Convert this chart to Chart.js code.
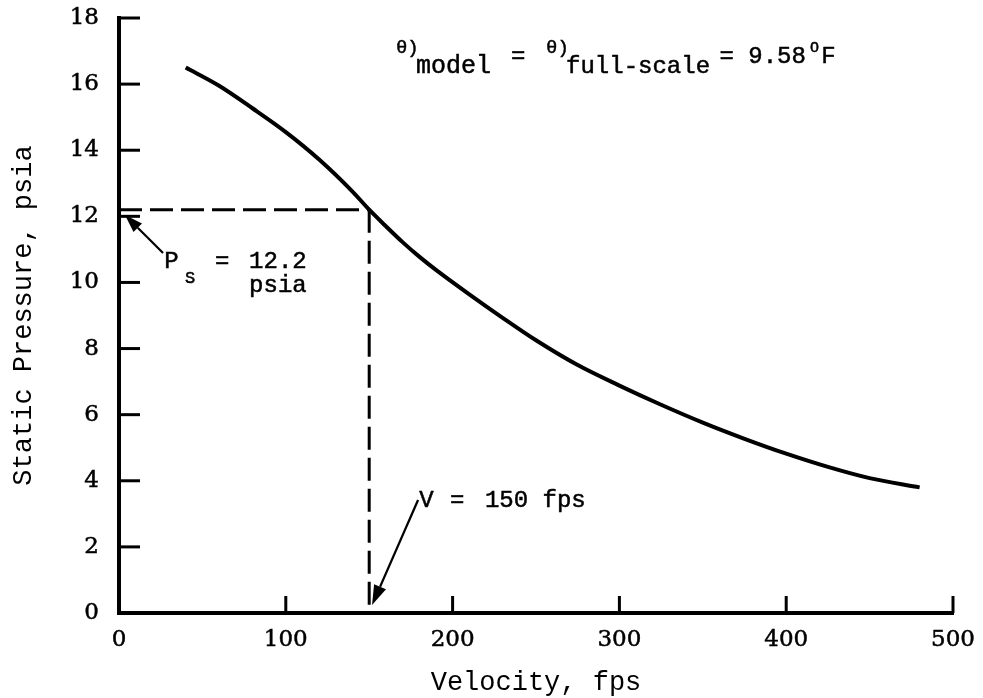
<!DOCTYPE html>
<html><head><meta charset="utf-8">
<script src="https://cdn.jsdelivr.net/npm/chart.js@4/dist/chart.umd.min.js"></script>
<style>html,body{margin:0;padding:0;background:#fff;overflow:hidden}#wrap{width:983px;height:698px}</style>
</head><body><div id="wrap"><canvas id="c" width="983" height="698"></canvas></div>
<script>
// ---- data ----
const velocity = [40, 60, 80, 100, 120, 140, 150, 160, 170, 180, 190, 210, 230, 250, 275, 300, 325, 350, 375, 400, 425, 450, 480];
const pressure = [16.5, 15.95, 15.27, 14.55, 13.72, 12.75, 12.2, 11.7, 11.22, 10.78, 10.38, 9.64, 8.93, 8.25, 7.5, 6.88, 6.3, 5.76, 5.27, 4.82, 4.42, 4.08, 3.8];
const designVelocity = 150;   // fps
const designPressure = 12.2;  // psia
const xTickValues = [0, 100, 200, 300, 400, 500];
const yTickValues = [0, 2, 4, 6, 8, 10, 12, 14, 16, 18];
const xTitle = 'Velocity, fps';
const yTitle = 'Static Pressure, psia';

const MONO = '"Liberation Mono", "DejaVu Sans Mono", monospace';
const SERIF = '"DejaVu Serif", "Liberation Serif", serif';

const curve = velocity.map((v, i) => ({x: v, y: pressure[i]}));
const hLine = [{x: 0, y: designPressure}, {x: designVelocity, y: designPressure}];
const vLine = [{x: designVelocity, y: designPressure}, {x: designVelocity, y: 0}];

function arrow(ctx, x1, y1, x2, y2, headLen, headHalf) {
  const ang = Math.atan2(y2 - y1, x2 - x1);
  const bx = x2 - headLen * Math.cos(ang), by = y2 - headLen * Math.sin(ang);
  ctx.beginPath();
  ctx.moveTo(x1, y1); ctx.lineTo(bx, by);
  ctx.lineWidth = 2.2; ctx.strokeStyle = '#000'; ctx.stroke();
  ctx.beginPath();
  ctx.moveTo(x2, y2);
  ctx.lineTo(bx + headHalf * Math.sin(ang), by - headHalf * Math.cos(ang));
  ctx.lineTo(bx - headHalf * Math.sin(ang), by + headHalf * Math.cos(ang));
  ctx.closePath(); ctx.fillStyle = '#000'; ctx.fill();
}

const annotate = {
  id: 'annotate',
  afterDraw(chart) {
    const ctx = chart.ctx, xs = chart.scales.x, ys = chart.scales.y;
    const X = v => xs.getPixelForValue(v), Y = p => ys.getPixelForValue(p);
    ctx.save();
    // inward tick marks
    ctx.strokeStyle = '#000'; ctx.lineWidth = 3; ctx.lineCap = 'butt';
    xTickValues.forEach(v => { if (v === 0) return;
      ctx.beginPath(); ctx.moveTo(X(v), Y(0)); ctx.lineTo(X(v), Y(0) - 17); ctx.stroke(); });
    yTickValues.forEach(p => { if (p === 0) return;
      ctx.beginPath(); ctx.moveTo(X(0), Y(p)); ctx.lineTo(X(0) + 21, Y(p)); ctx.stroke(); });
    // text pieces
    ctx.fillStyle = '#000'; ctx.strokeStyle = '#000'; ctx.lineWidth = 0.5;
    ctx.textBaseline = 'alphabetic'; ctx.textAlign = 'left';
    const txt = (t, v, p, size) => { ctx.font = size + 'px ' + MONO; ctx.fillText(t, X(v), Y(p)); ctx.strokeText(t, X(v), Y(p)); };
    txt('\u03b8)', 166.0, 16.94, 19);
    txt('model', 178.0, 16.33, 25);
    txt('=', 235.0, 16.64, 24);
    txt('\u03b8)', 256.0, 16.94, 19);
    txt('full-scale', 268.0, 16.33, 24);
    txt('= 9.58', 360.0, 16.64, 24);
    txt('O', 414.3, 16.97, 15);
    txt('F', 421.0, 16.64, 24);

    txt('P', 27.2, 10.44, 24);
    txt('S', 39.6, 9.98, 17);
    txt('=', 57.6, 10.44, 24);
    txt('12.2', 78.0, 10.44, 24);
    txt('psia', 78.0, 9.71, 24);

    txt('V', 180.0, 3.21, 24);
    txt('=', 198.4, 3.21, 24);
    txt('150 fps', 219.4, 3.21, 24);

    // arrows
    arrow(ctx, X(26.4), Y(10.89), X(3.6), Y(12.04), 18, 6);
    arrow(ctx, X(179.3), Y(3.42), X(151.7), Y(0.24), 20, 6.5);
    ctx.restore();
  }
};

new Chart(document.getElementById('c'), {
  type: 'line',
  data: { datasets: [
    { data: curve, borderColor: '#000', borderWidth: 4, pointRadius: 0, fill: false, cubicInterpolationMode: 'monotone' },
    { data: hLine, borderColor: '#000', borderWidth: 3, pointRadius: 0, fill: false, borderDash: [23, 8] },
    { data: vLine, borderColor: '#000', borderWidth: 3, pointRadius: 0, fill: false, borderDash: [23, 8] }
  ]},
  options: {
    responsive: false, animation: false, devicePixelRatio: 1,
    layout: { padding: { top: 18, right: 30, left: 0, bottom: 0 } },
    plugins: { legend: { display: false }, tooltip: { enabled: false } },
    scales: {
      x: {
        type: 'linear', min: 0, max: 500,
        afterBuildTicks: s => { s.ticks = xTickValues.map(v => ({value: v})); },
        afterFit: s => { s.height = 85; },
        grid: { display: false, drawTicks: true, tickLength: 13 },
        border: { display: true, width: 4, color: '#000' },
        ticks: { color: '#000', padding: 0, font: { family: SERIF, size: 23 }, maxRotation: 0, textStrokeColor: '#000', textStrokeWidth: 0.5 },
        title: { display: true, text: xTitle, color: '#000', font: { family: MONO, size: 27, lineHeight: 1.1 }, padding: { top: 0, bottom: 0 } }
      },
      y: {
        type: 'linear', min: 0, max: 18,
        afterBuildTicks: s => { s.ticks = yTickValues.map(v => ({value: v})); },
        afterFit: s => { s.width = 119; },
        grid: { display: false, drawTicks: true, tickLength: 20 },
        border: { display: true, width: 4, color: '#000' },
        ticks: { color: '#000', padding: 0, font: { family: SERIF, size: 23 }, textStrokeColor: '#000', textStrokeWidth: 0.5 },
        title: { display: true, text: yTitle, color: '#000', font: { family: MONO, size: 27, lineHeight: 1.1 }, padding: { top: 9, bottom: 0 } }
      }
    }
  },
  plugins: [annotate]
});
</script></body></html>
